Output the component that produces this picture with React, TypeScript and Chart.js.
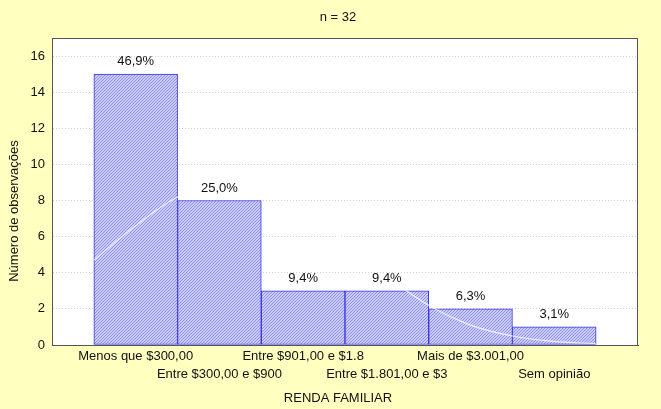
import React, { useEffect, useRef } from "react";
import { Chart, registerables } from "chart.js";

Chart.register(...registerables);

const categories = [
  "Menos que $300,00",
  "Entre $300,00 e $900",
  "Entre $901,00 e $1.8",
  "Entre $1.801,00 e $3",
  "Mais de $3.001,00",
  "Sem opinião",
];
const counts = [15, 8, 3, 3, 2, 1];
const percentLabels = ["46,9%", "25,0%", "9,4%", "9,4%", "6,3%", "3,1%"];
const curveX = [-0.5, 0, 0.5, 1, 1.5, 2, 2.5, 3, 3.5, 4, 4.5, 5, 5.5];
const curveY = [4.7, 6.6, 8.2, 9.0, 8.8, 7.6, 5.7, 3.8, 2.2, 1.1, 0.5, 0.2, 0.07];
const yTicks = [0, 2, 4, 6, 8, 10, 12, 14, 16];
const chartTitle = "n = 32";
const xTitle = "RENDA FAMILIAR";
const yTitle = "Número de observações";

const FONT = "'Liberation Sans', Arial, Helvetica, sans-serif";

function makePattern(): CanvasPattern | string {
  const c = document.createElement("canvas");
  c.width = 3;
  c.height = 3;
  const g = c.getContext("2d");
  if (!g) return "#c0c0f4";
  g.fillStyle = "#cdcdfa";
  g.fillRect(0, 0, 3, 3);
  g.strokeStyle = "#8c8cea";
  g.lineWidth = 1;
  g.beginPath();
  g.moveTo(0, 3);
  g.lineTo(3, 0);
  g.moveTo(-1, 1);
  g.lineTo(1, -1);
  g.moveTo(2, 4);
  g.lineTo(4, 2);
  g.stroke();
  const p = g.createPattern(c, "repeat");
  return p || "#c0c0f4";
}

export default function App() {
  const ref = useRef<HTMLCanvasElement>(null);

  useEffect(() => {
    const canvas = ref.current;
    if (!canvas) return;

    const decor = {
      id: "decor",
      beforeDraw(chart: any) {
        const { ctx, chartArea: a } = chart;
        ctx.save();
        ctx.fillStyle = "#FFFFC0";
        ctx.fillRect(0, 0, chart.width, chart.height);
        ctx.fillStyle = "#ffffff";
        ctx.fillRect(a.left, a.top, a.right - a.left, a.bottom - a.top);
        ctx.restore();
      },
      afterDraw(chart: any) {
        const { ctx, chartArea: a } = chart;
        const xs = chart.scales.x;
        const ys = chart.scales.y;
        ctx.save();
        ctx.strokeStyle = "#555555";
        ctx.lineWidth = 1;
        ctx.strokeRect(a.left + 0.5, a.top + 0.5, a.right - a.left - 1, a.bottom - a.top);
        ctx.fillStyle = "#111111";
        ctx.font = `13px ${FONT}`;
        ctx.textAlign = "center";
        ctx.textBaseline = "bottom";
        counts.forEach((v, i) => {
          ctx.fillText(percentLabels[i], xs.getPixelForValue(i), ys.getPixelForValue(v) - 6);
        });
        ctx.textBaseline = "middle";
        ctx.fillText(chartTitle, 338, 17);
        ctx.fillText(xTitle, 338, 398);
        ctx.translate(14, 211);
        ctx.rotate(-Math.PI / 2);
        ctx.fillText(yTitle, 0, 0);
        ctx.restore();
      },
    };

    const chart = new Chart(canvas, {
      type: "bar",
      data: {
        datasets: [
          {
            type: "line",
            data: curveX.map((x, i) => ({ x, y: curveY[i] })),
            borderColor: "rgba(255,255,255,0.8)",
            borderWidth: 1.2,
            pointRadius: 0,
            tension: 0.4,
            fill: false,
            order: 0,
          } as any,
          {
            type: "bar",
            data: counts.map((y, i) => ({ x: i, y })),
            backgroundColor: makePattern() as any,
            borderColor: "#3535e6",
            borderWidth: 1,
            borderSkipped: false,
            barPercentage: 1,
            categoryPercentage: 1,
            order: 1,
          } as any,
        ],
      },
      options: {
        animation: false,
        responsive: false,
        devicePixelRatio: 1,
        layout: { padding: { top: 38, right: 23, bottom: 0, left: 0 } },
        plugins: {
          legend: { display: false },
          tooltip: { enabled: false },
          title: { display: false },
        },
        scales: {
          x: {
            type: "linear",
            min: -1,
            max: 6,
            offset: false,
            afterBuildTicks: (scale: any) => {
              scale.ticks = categories.map((_, i) => ({ value: i }));
            },
            afterFit: (scale: any) => {
              scale.height = 64;
            },
            ticks: {
              autoSkip: false,
              maxRotation: 0,
              minRotation: 0,
              padding: 2,
              color: "#111111",
              font: { family: FONT, size: 13, lineHeight: 1.4 },
              callback: (v: any) => {
                const i = Math.round(Number(v));
                const t = categories[i] ?? "";
                return i % 2 === 0 ? [t, ""] : ["", t];
              },
            },
            grid: { display: true, drawOnChartArea: false, drawTicks: false },
            border: { display: true, color: "#555555", width: 1 },
          },
          y: {
            min: 0,
            max: 17,
            afterBuildTicks: (scale: any) => {
              scale.ticks = yTicks.map((v) => ({ value: v }));
            },
            afterFit: (scale: any) => {
              scale.width = 52;
            },
            ticks: {
              padding: 7,
              color: "#111111",
              font: { family: FONT, size: 13 },
            },
            grid: { color: "#d0d0d0", lineWidth: 1, drawTicks: false },
            border: { display: true, color: "#555555", width: 1, dash: [1, 2] },
          },
        },
      },
      plugins: [decor],
    } as any);

    return () => chart.destroy();
  }, []);

  return (
    <div
      style={{
        position: "fixed",
        left: 0,
        top: 0,
        width: 661,
        height: 409,
        background: "#FFFFC0",
      }}
    >
      <canvas ref={ref} width={661} height={409} style={{ display: "block" }} />
    </div>
  );
}
